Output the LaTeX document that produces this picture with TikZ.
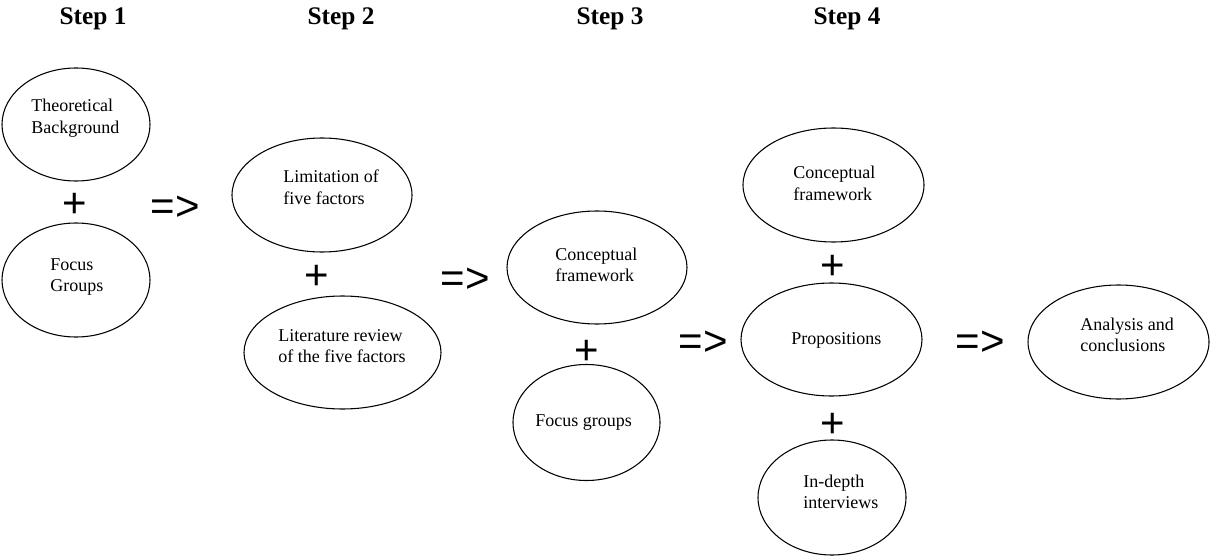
\documentclass[tikz,border=0pt]{standalone}
\usepackage{fontspec}
\setmainfont{Liberation Serif}
\newfontfamily\symfont{Liberation Sans}
\usetikzlibrary{shapes.geometric}
\tikzset{
  x=0.75pt, y=-0.75pt,
  oval/.style={ellipse, draw=black, line width=0.8pt, inner sep=0pt},
  txt/.style={anchor=base west, inner sep=0pt, font=\fontsize{13.5}{16.2}\selectfont},
  steplabel/.style={anchor=base, inner sep=0pt, font=\fontsize{19}{22}\selectfont\bfseries},
  opsign/.style={inner sep=0pt, font=\symfont\fontsize{31.5}{34}\selectfont}
}
\newcommand{\twoline}[2]{\begin{tabular}[t]{@{}l@{}}#1\\#2\end{tabular}}
\begin{document}
\begin{tikzpicture}
\useasboundingbox (0,0) rectangle (1213,556);
% step headings
\node[steplabel] (s1) at (93,25) {Step 1};
\node[steplabel] (s2) at (341,25) {Step 2};
\node[steplabel] (s3) at (610,25) {Step 3};
\node[steplabel] (s4) at (847,25) {Step 4};
% step 1
\node[oval, minimum width=111pt, minimum height=84.75pt] (tb) at (76,124.5) {};
\node[txt] (tbt) at (31,112) {\twoline{Theoretical}{Background}};
\node[opsign] (p1) at (75,205) {+};
\node[oval, minimum width=111pt, minimum height=85.5pt] (fg1) at (76,280) {};
\node[txt] (fg1t) at (50,270) {\twoline{Focus}{Groups}};
\node[opsign] (a1) at (175,208) {=>};
% step 2
\node[oval, minimum width=135pt, minimum height=85.5pt] (lim) at (322,195) {};
\node[txt] (limt) at (283,183) {\twoline{Limitation of}{five factors}};
\node[opsign] (p2) at (317,277) {+};
\node[oval, minimum width=147.75pt, minimum height=84.75pt] (lit) at (342.5,352.5) {};
\node[txt] (litt) at (278,341) {\twoline{Literature review}{of the five factors}};
\node[opsign] (a2) at (465,280) {=>};
% step 3
\node[oval, minimum width=135pt, minimum height=84.75pt] (cf3) at (597,267.5) {};
\node[txt] (cf3t) at (555,260) {\twoline{Conceptual}{framework}};
\node[opsign] (p3) at (587,352) {+};
\node[oval, minimum width=110.25pt, minimum height=87pt] (fg3) at (586.5,422.5) {};
\node[txt] (fg3t) at (535,426) {Focus groups};
\node[opsign] (a3) at (703,343) {=>};
% step 4
\node[oval, minimum width=135.75pt, minimum height=85.5pt] (cf4) at (833.5,185) {};
\node[txt] (cf4t) at (793,179) {\twoline{Conceptual}{framework}};
\node[opsign] (p4) at (833,267) {+};
\node[oval, minimum width=135.75pt, minimum height=84.75pt] (prop) at (831.5,339.5) {};
\node[txt] (propt) at (791,344) {Propositions};
\node[opsign] (p5) at (833,425) {+};
\node[oval, minimum width=111pt, minimum height=86.25pt] (ind) at (832,497.5) {};
\node[txt] (indt) at (803,487) {\twoline{In-depth}{interviews}};
\node[opsign] (a4) at (980,343) {=>};
% result
\node[oval, minimum width=135.75pt, minimum height=85.5pt] (ana) at (1118.5,342) {};
\node[txt] (anat) at (1080,330) {\twoline{Analysis and}{conclusions}};
\end{tikzpicture}
\end{document}
